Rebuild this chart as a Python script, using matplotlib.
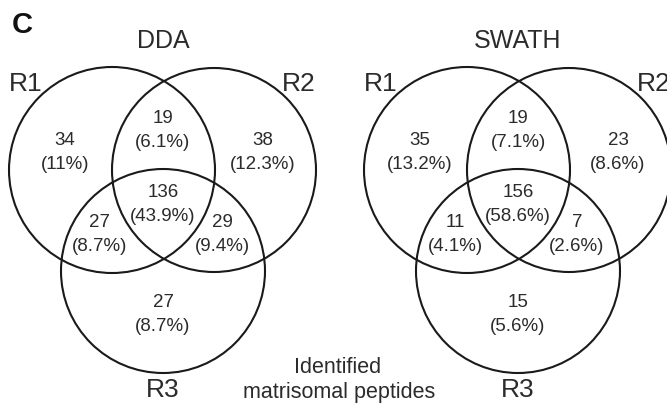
import matplotlib
matplotlib.use("Agg")
import matplotlib.pyplot as plt
from matplotlib.patches import Circle

plt.rcParams['font.family'] = ['Liberation Sans', 'DejaVu Sans']

TEXT = "#2b2b2b"
LINE = "#1a1a1a"

# data
set_names = ["R1", "R2", "R3"]
methods = ["DDA", "SWATH"]
# region order: R1 only, R1&R2, R2 only, all three, R1&R3, R2&R3, R3 only
dda_counts = [34, 19, 38, 136, 27, 29, 27]
dda_pct = [11, 6.1, 12.3, 43.9, 8.7, 9.4, 8.7]
swath_counts = [35, 19, 23, 156, 11, 7, 15]
swath_pct = [13.2, 7.1, 8.6, 58.6, 4.1, 2.6, 5.6]
caption = ["Identified", "matrisomal peptides"]

# layout (pixel coords, y down)
W, H = 667, 405
venn_x = [163, 518]
circ = [(-51, 170, 103), (51, 170, 102), (0, 271, 102)]
region_xy = [(-98, 145), (0, 123), (100, 145), (0, 197),
             (-63, 227), (59, 227), (0, 307)]
label_xy = [(-137, 91), (136, 91), (0, 397)]

fig = plt.figure(figsize=(W / 100, H / 100), dpi=100)
ax = fig.add_axes([0, 0, 1, 1])
ax.set_xlim(0, W)
ax.set_ylim(H, 0)
ax.set_aspect("equal")
ax.axis("off")

ax.text(12, 33, "C", fontsize=21, fontweight="bold", color="#111111",
        ha="left", va="baseline")

for cx, method, counts, pcts in zip(venn_x, methods,
                                    [dda_counts, swath_counts],
                                    [dda_pct, swath_pct]):
    for dx, cy, r in circ:
        ax.add_patch(Circle((cx + dx, cy), r, fill=False,
                            edgecolor=LINE, linewidth=1.5))
    ax.text(cx, 48, method, fontsize=18, color=TEXT,
            ha="center", va="baseline")
    for (dx, y), name in zip(label_xy, set_names):
        ax.text(cx + dx, y, name, fontsize=19, color=TEXT,
                ha="center", va="baseline")
    for (dx, y), n, p in zip(region_xy, counts, pcts):
        ax.text(cx + dx, y, str(n), fontsize=13.5, color=TEXT,
                ha="center", va="baseline")
        ax.text(cx + dx, y + 24, f"({p:g}%)", fontsize=13.5, color=TEXT,
                ha="center", va="baseline")

ax.text(338, 373, caption[0], fontsize=15.5, color=TEXT,
        ha="center", va="baseline")
ax.text(339, 398, caption[1], fontsize=15.5, color=TEXT,
        ha="center", va="baseline")

fig.savefig("out.png", dpi=100, facecolor="white")
